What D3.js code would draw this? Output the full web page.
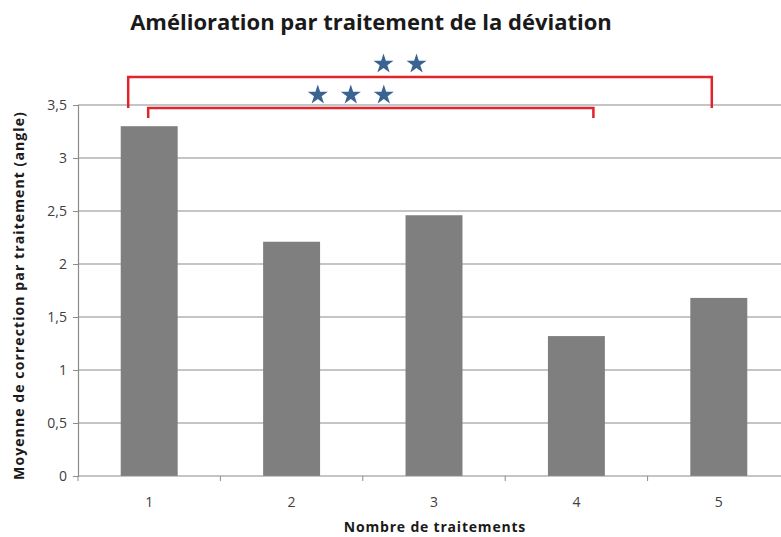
<!DOCTYPE html>
<html>
  <head>
    <meta charset="utf-8" />
    <title>Amélioration par traitement de la déviation</title>
    <script src="https://cdn.jsdelivr.net/npm/d3@7"></script>
    <style>
      body { margin: 0; background: #fff; }
      svg text { font-family: 'Open Sans', Lato, sans-serif; }
      .tick text { fill: #404040; font-size: 14px; }
    </style>
  </head>
  <body>
    <svg id="chart"></svg>
    <script>
      const categories = ["1", "2", "3", "4", "5"]
      const values = [3.3, 2.21, 2.46, 1.32, 1.68]
      const yTicks = [0, 0.5, 1, 1.5, 2, 2.5, 3, 3.5]
      const yTickLabels = ["0", "0,5", "1", "1,5", "2", "2,5", "3", "3,5"]
      const brackets = [
        {from: "1", to: "5", stars: 2},
        {from: "1", to: "4", stars: 3},
      ]

      const width = 781
      const height = 537
      const margin = {top: 105, right: -9, bottom: 61, left: 78}

      const svg = d3.select("#chart")
        .attr("width", width)
        .attr("height", height)

      const x = d3.scaleBand()
        .domain(categories)
        .range([margin.left, width - margin.right])
        .paddingInner(0.6)
        .paddingOuter(0.3)

      const y = d3.scaleLinear()
        .domain([0, 3.5])
        .range([height - margin.bottom, margin.top])

      // gridlines
      svg.append("g")
        .selectAll("line")
        .data(yTicks.slice(1))
        .join("line")
          .attr("x1", margin.left)
          .attr("x2", width)
          .attr("y1", d => y(d))
          .attr("y2", d => y(d))
          .attr("stroke", "#8c8c8c")
          .attr("stroke-width", 1.2)

      // bars
      svg.append("g")
        .selectAll("rect")
        .data(categories)
        .join("rect")
          .attr("x", d => x(d))
          .attr("y", (d, i) => y(values[i]))
          .attr("width", x.bandwidth())
          .attr("height", (d, i) => y(0) - y(values[i]))
          .attr("fill", "#7f7f7f")

      // y axis
      const yAxis = svg.append("g")
        .attr("transform", `translate(${margin.left},0)`)
        .call(d3.axisLeft(y)
          .tickValues(yTicks)
          .tickFormat((d, i) => yTickLabels[i])
          .tickSize(5)
          .tickPadding(6))
      yAxis.select(".domain").attr("stroke", "#8c8c8c").attr("stroke-width", 1.2)
      yAxis.selectAll(".tick line").attr("stroke", "#8c8c8c")

      // x axis
      const xAxis = svg.append("g")
        .attr("transform", `translate(0,${y(0)})`)
        .call(d3.axisBottom(x).tickSize(0).tickPadding(21))
      xAxis.select(".domain").remove()
      xAxis.append("line")
        .attr("x1", margin.left)
        .attr("x2", width)
        .attr("stroke", "#8c8c8c")
        .attr("stroke-width", 1.2)
      xAxis.selectAll("line.sep")
        .data(categories)
        .join("line")
          .attr("class", "sep")
          .attr("x1", d => x(d) - x.step() * x.paddingInner() / 2)
          .attr("x2", d => x(d) - x.step() * x.paddingInner() / 2)
          .attr("y1", 0)
          .attr("y2", 5)
          .attr("stroke", "#8c8c8c")

      // significance brackets
      const bracketStyle = [
        {top: y(3.5) - 28, leg: y(3.5) + 3, dl: -21, dr: -7},
        {top: y(3.5) + 3, leg: y(3.5) + 13, dl: -1, dr: 17},
      ]
      const star = d3.symbol().type(d3.symbolStar).size(125)

      brackets.forEach((b, i) => {
        const s = bracketStyle[i]
        const x1 = x(b.from) + x.bandwidth() / 2 + s.dl
        const x2 = x(b.to) + x.bandwidth() / 2 + s.dr
        svg.append("path")
          .attr("d", `M${x1},${s.leg}V${s.top}H${x2}V${s.leg}`)
          .attr("fill", "none")
          .attr("stroke", "#e0242b")
          .attr("stroke-width", 2.5)
        const mid = (x1 + x2) / 2 - 20
        svg.append("g")
          .selectAll("path")
          .data(d3.range(b.stars))
          .join("path")
            .attr("d", star)
            .attr("transform", k => `translate(${mid + (k - (b.stars - 1) / 2) * 33},${s.top - 13})`)
            .attr("fill", "#3a6391")
      })

      // titles
      svg.append("text")
        .attr("x", 371)
        .attr("y", 30)
        .attr("text-anchor", "middle")
        .style("font-size", "22px")
        .style("font-weight", "bold")
        .attr("fill", "#1a1a1a")
        .text("Amélioration par traitement de la déviation")

      svg.append("text")
        .attr("x", 435)
        .attr("y", 532)
        .attr("text-anchor", "middle")
        .style("font-size", "14px")
        .style("letter-spacing", "0.8px")
        .style("font-weight", "bold")
        .attr("fill", "#1a1a1a")
        .text("Nombre de traitements")

      svg.append("text")
        .attr("transform", `translate(24,${(y(0) + y(3.5)) / 2 + 5}) rotate(-90)`)
        .attr("text-anchor", "middle")
        .style("font-size", "14px")
        .style("letter-spacing", "1.1px")
        .style("font-weight", "bold")
        .attr("fill", "#1a1a1a")
        .text("Moyenne de correction par traitement (angle)")
    </script>
  </body>
</html>
